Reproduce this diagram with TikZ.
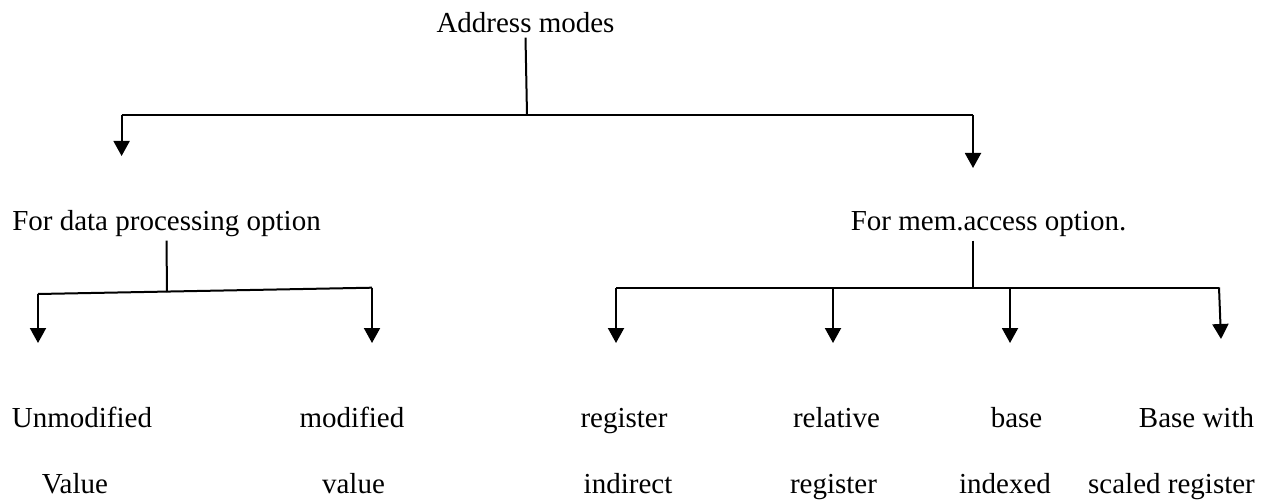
\documentclass[tikz,border=0pt]{standalone}
\usepackage{fontspec}
\setmainfont{Liberation Serif}
\usetikzlibrary{arrows.meta}
\begin{document}
\begin{tikzpicture}[x=0.5pt,y=-0.5pt,
  lbl/.style={font=\fontsize{14.5}{17}\selectfont, inner sep=2pt, anchor=base},
  link/.style={line width=1pt},
  down/.style={link,-{Triangle[length=7.5pt,width=8pt]}}]
\useasboundingbox (0,0) rectangle (1267,502);

% headings
\node[lbl] (root) at (525.5,33) {Address modes};
\node[lbl] (dp) at (166.5,230) {For data processing option};
\node[lbl] (ma) at (988.5,230) {For mem.access option.};

% leaves, first and second lines
\node[lbl] (u1) at (82,427) {Unmodified};
\node[lbl] (u2) at (75,493) {Value};
\node[lbl] (m1) at (352,427) {modified};
\node[lbl] (m2) at (353.5,493) {value};
\node[lbl] (r1) at (624,427) {register};
\node[lbl] (r2) at (628,493) {indirect};
\node[lbl] (l1) at (836.5,427) {relative};
\node[lbl] (l2) at (833.5,493) {register};
\node[lbl] (b1) at (1016.5,427) {base};
\node[lbl] (b2) at (1005,493) {indexed};
\node[lbl] (s1) at (1196.5,427) {Base with};
\node[lbl] (s2) at (1171.5,493) {scaled register};

% junctions and arrow ends
\coordinate (j0) at (527,115);
\coordinate (h0L) at (121.6,115);
\coordinate (h0R) at (973,115);
\coordinate (t0L) at (121.6,156);
\coordinate (t0R) at (973,168);

\coordinate (j1) at (167,292);
\coordinate (h1L) at (38,294);
\coordinate (h1R) at (372,287.7);
\coordinate (t1L) at (38,343);
\coordinate (t1R) at (372,343);

\coordinate (j2) at (973,287.5);
\coordinate (h2L) at (616,287.5);
\coordinate (h2R) at (1219,287.5);
\coordinate (k2a) at (833,287.5);
\coordinate (k2b) at (1010,287.5);
\coordinate (t2a) at (616,343);
\coordinate (t2b) at (833,343);
\coordinate (t2c) at (1010,343);
\coordinate (t2d) at (1221,339);

% top level
\draw[link] (root.south) -- (j0);
\draw[link] (h0L) -- (h0R);
\draw[down] (h0L) -- (t0L);
\draw[down] (h0R) -- (t0R);

% data processing branch
\draw[link] (dp.south) -- (j1);
\draw[link] (h1L) -- (h1R);
\draw[down] (h1L) -- (t1L);
\draw[down] (h1R) -- (t1R);

% memory access branch
\draw[link] (ma.south -| j2) -- (j2);
\draw[link] (h2L) -- (h2R);
\draw[down] (h2L) -- (t2a);
\draw[down] (k2a) -- (t2b);
\draw[down] (k2b) -- (t2c);
\draw[down] (h2R) -- (t2d);
\end{tikzpicture}
\end{document}
